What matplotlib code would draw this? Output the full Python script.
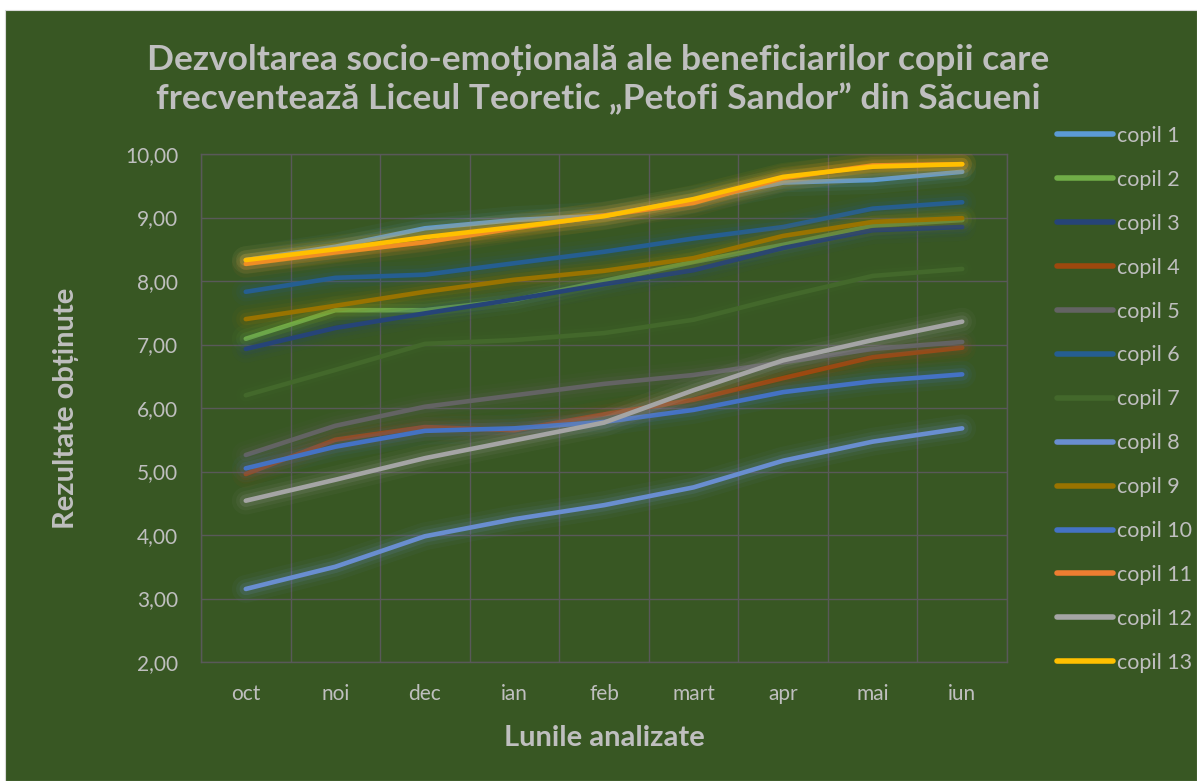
import numpy as np
import matplotlib
matplotlib.use("Agg")
import matplotlib.pyplot as plt
import matplotlib.patheffects as pe
from matplotlib.patches import Rectangle
from matplotlib.lines import Line2D

# ── Data ───────────────────────────────────────────────────────────────────────
months = ["oct", "noi", "dec", "ian", "feb", "mart", "apr", "mai", "iun"]

copil_1  = [8.33, 8.54, 8.83, 8.96, 9.03, 9.28, 9.55, 9.59, 9.72]
copil_2  = [7.09, 7.54, 7.54, 7.70, 8.00, 8.30, 8.57, 8.87, 8.96]
copil_3  = [6.93, 7.26, 7.49, 7.71, 7.95, 8.17, 8.52, 8.80, 8.85]
copil_4  = [4.96, 5.50, 5.70, 5.65, 5.90, 6.13, 6.47, 6.80, 6.95]
copil_5  = [5.26, 5.72, 6.02, 6.20, 6.38, 6.52, 6.72, 6.93, 7.04]
copil_6  = [7.83, 8.05, 8.10, 8.28, 8.46, 8.67, 8.85, 9.14, 9.24]
copil_7  = [6.20, 6.60, 7.01, 7.07, 7.18, 7.39, 7.75, 8.08, 8.19]
copil_8  = [3.15, 3.50, 3.98, 4.25, 4.47, 4.75, 5.17, 5.47, 5.68]
copil_9  = [7.40, 7.61, 7.83, 8.02, 8.16, 8.36, 8.71, 8.93, 8.99]
copil_10 = [5.05, 5.39, 5.64, 5.68, 5.78, 5.97, 6.25, 6.42, 6.53]
copil_11 = [8.27, 8.45, 8.61, 8.83, 9.03, 9.23, 9.62, 9.82, 9.84]
copil_12 = [4.54, 4.87, 5.21, 5.49, 5.77, 6.28, 6.75, 7.07, 7.36]
copil_13 = [8.33, 8.50, 8.69, 8.85, 9.02, 9.29, 9.64, 9.80, 9.84]

series = [copil_1, copil_2, copil_3, copil_4, copil_5, copil_6, copil_7,
          copil_8, copil_9, copil_10, copil_11, copil_12, copil_13]
labels = [f"copil {i}" for i in range(1, 14)]

# ── Colours ────────────────────────────────────────────────────────────────────
colors = ["#5B9BD5", "#70AD47", "#264478", "#9E480E", "#636363", "#255E91",
          "#43682B", "#698ED0", "#997300", "#4472C4", "#ED7D31", "#A5A5A5",
          "#FFC000"]
BG    = "#385723"
TEXT  = "#BFBFBF"
GRID  = "#595959"
FONT  = ["Lato", "DejaVu Sans"]

plt.rcParams["font.family"] = FONT

fig = plt.figure(figsize=(11.97, 7.81), dpi=100)
fig.patch.set_facecolor("white")
fig.add_artist(Rectangle((5 / 1197, 0), 1 - 5 / 1197, 771 / 781,
                         transform=fig.transFigure, facecolor=BG,
                         edgecolor="#D9D9D9", linewidth=0.8, zorder=0))

ax = fig.add_axes([201 / 1197, 1 - 662 / 781, 806 / 1197, 508 / 781])
ax.set_facecolor(BG)

# lines with a soft glow, like the Excel effect
x = np.arange(len(months))
for vals, col, lbl in zip(series, colors, labels):
    glow = [pe.Stroke(linewidth=20, foreground=col, alpha=0.05),
            pe.Stroke(linewidth=14, foreground=col, alpha=0.08),
            pe.Stroke(linewidth=9, foreground=col, alpha=0.14),
            pe.Normal()]
    ax.plot(x, vals, color=col, linewidth=3.3, solid_capstyle="round",
            solid_joinstyle="round", label=lbl, path_effects=glow, zorder=3)

ax.set_xlim(-0.5, len(months) - 0.5)
ax.set_ylim(2, 10)
ax.set_yticks(np.arange(2, 10.01, 1))
ax.set_yticklabels([f"{v:.2f}".replace(".", ",") for v in np.arange(2, 10.01, 1)])
ax.set_xticks(x)
ax.set_xticklabels(months)
ax.set_xticks(np.arange(-0.5, len(months), 1), minor=True)
ax.grid(which="minor", axis="x", color=GRID, linewidth=1.0, zorder=0)
ax.grid(which="major", axis="y", color=GRID, linewidth=1.0, zorder=0)
ax.tick_params(which="both", length=0, colors=TEXT, labelsize=15)
ax.tick_params(axis="y", pad=16.5)
ax.tick_params(axis="x", pad=16)
for s in ax.spines.values():
    s.set_color(GRID)
    s.set_linewidth(1.0)

ax.set_xlabel("Lunile analizate", fontsize=21, fontweight="bold",
              color=TEXT, labelpad=15)
ax.set_ylabel("Rezultate obținute", fontsize=21, fontweight="bold",
              color=TEXT, labelpad=33)

fig.text(0.5, 1 - 80 / 781,
         "Dezvoltarea socio-emoțională ale beneficiarilor copii care\n"
         "frecventează Liceul Teoretic „Petofi Sandor” din Săcueni",
         ha="center", va="center", fontsize=25.5, fontweight="bold",
         color=TEXT, linespacing=1.27)

handles = [Line2D([0], [0], color=c, linewidth=4, solid_capstyle="round")
           for c in colors]
fig.legend(handles, labels, loc="upper left",
           bbox_to_anchor=(1057 / 1197, 1 - 126 / 781),
           frameon=False, fontsize=15.5, labelcolor=TEXT,
           handlelength=2.6, handletextpad=0.2, labelspacing=1.11,
           borderaxespad=0, borderpad=0)

fig.savefig("out.png", dpi=100, facecolor=fig.get_facecolor())
